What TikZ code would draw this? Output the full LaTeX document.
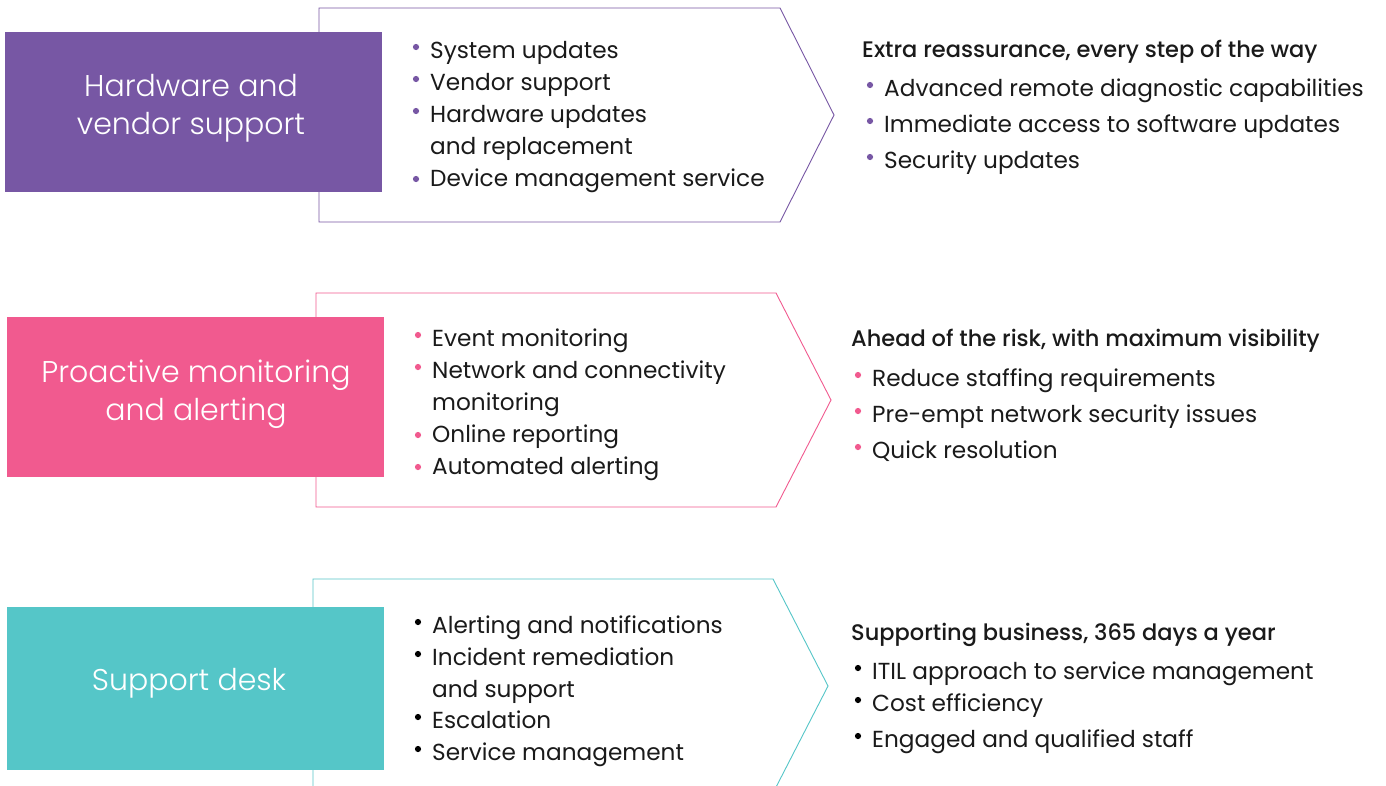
\documentclass[tikz,border=0pt]{standalone}
\usepackage{fontspec}
\setmainfont{Poppins}
\newfontfamily\plight{Poppins Light}
\newfontfamily\pmed{Poppins Medium}
\definecolor{cpur}{HTML}{7757A4}
\definecolor{cpink}{HTML}{F15A8F}
\definecolor{cteal}{HTML}{55C6C8}
\definecolor{ctxt}{HTML}{1A1A1A}
\tikzset{
  title/.style={text=white, align=center, inner sep=0pt, font=\plight\fontsize{30}{38}\selectfont},
  item/.style={anchor=base west, inner sep=0pt, text=ctxt, font=\fontsize{23.2}{26}\selectfont},
  head/.style={anchor=base west, inner sep=0pt, text=ctxt, font=\pmed\fontsize{22.5}{26}\selectfont},
  arrowline/.style={line width=0.9pt},
}
\newcommand{\bul}[2]{\fill[#1] ([xshift=-14pt,yshift=11pt]#2.base west) circle (3.1pt);}
\newcommand{\lowbul}[2]{\fill[#1] ([xshift=-14pt,yshift=7pt]#2.base west) circle (3.1pt);}
\begin{document}
\begin{tikzpicture}[x=1pt,y=-1pt]
\useasboundingbox[fill=white] (0,0) rectangle (1386,785);

% ---------- Row 1 ----------
\draw[arrowline, cpur] (319,8) -- (780,8) -- (834,115) -- (780,222) -- (319,222) -- cycle;
\fill[cpur] (5,32) rectangle (382,192);
\node[title] (t1) at (191,108) {Hardware and\\vendor support};
\node[item] (a1) at (430,58) {System updates};
\node[item] (a2) at (430,90) {Vendor support};
\node[item] (a3) at (430,122) {Hardware updates};
\node[item] (a3b) at (430,154) {and replacement};
\node[item] (a4) at (430,186) {Device management service};
\bul{cpur}{a1}\bul{cpur}{a2}\bul{cpur}{a3}\lowbul{cpur}{a4}
\node[head] (h1) at (862,57) {Extra reassurance, every step of the way};
\node[item] (b1) at (884,96) {Advanced remote diagnostic capabilities};
\node[item] (b2) at (884,132) {Immediate access to software updates};
\node[item] (b3) at (884,168) {Security updates};
\bul{cpur}{b1}\bul{cpur}{b2}\bul{cpur}{b3}

% ---------- Row 2 ----------
\draw[arrowline, cpink] (316,293) -- (776,293) -- (831,400) -- (776,507) -- (316,507) -- cycle;
\fill[cpink] (7,317) rectangle (384,477);
\node[title] (t2) at (196,394) {Proactive monitoring\\and alerting};
\node[item] (c1) at (432,346) {Event monitoring};
\node[item] (c2) at (432,378) {Network and connectivity};
\node[item] (c2b) at (432,410) {monitoring};
\node[item] (c3) at (432,442) {Online reporting};
\node[item] (c4) at (432,474) {Automated alerting};
\bul{cpink}{c1}\bul{cpink}{c2}\lowbul{cpink}{c3}\lowbul{cpink}{c4}
\node[head] (h2) at (851,346) {Ahead of the risk, with maximum visibility};
\node[item] (d1) at (872,386) {Reduce staffing requirements};
\node[item] (d2) at (872,422) {Pre-empt network security issues};
\node[item] (d3) at (872,458) {Quick resolution};
\bul{cpink}{d1}\bul{cpink}{d2}\bul{cpink}{d3}

% ---------- Row 3 ----------
\draw[arrowline, cteal] (313,800) -- (313,579) -- (773,579) -- (828,686) -- (773,793);
\fill[cteal] (7,607) rectangle (384,770);
\node[title] (t3) at (189,683) {Support desk};
\node[item] (e1) at (432,633) {Alerting and notifications};
\node[item] (e2) at (432,665) {Incident remediation};
\node[item] (e2b) at (432,697) {and support};
\node[item] (e3) at (432,728) {Escalation};
\node[item] (e4) at (432,760) {Service management};
\bul{black}{e1}\bul{black}{e2}\bul{black}{e3}\bul{black}{e4}
\node[head] (h3) at (851,640) {Supporting business, 365 days a year};
\node[item] (f1) at (872,679) {ITIL approach to service management};
\node[item] (f2) at (872,711) {Cost efficiency};
\node[item] (f3) at (872,747) {Engaged and qualified staff};
\bul{black}{f1}\bul{black}{f2}\bul{black}{f3}
\end{tikzpicture}
\end{document}
